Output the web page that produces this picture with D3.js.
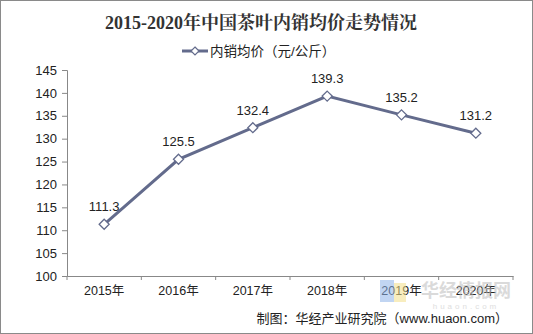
<!DOCTYPE html>
<html>
<head>
<meta charset="utf-8">
<script src="https://cdn.jsdelivr.net/npm/d3@7"></script>
<style>
  html, body { margin: 0; padding: 0; background: #fff; }
  svg { display: block; }
</style>
</head>
<body>
<svg id="chart" width="533" height="334"></svg>
<script>
// 2015-2020 average domestic sales price of tea in China (yuan/kg)
const years = ["2015年", "2016年", "2017年", "2018年", "2019年", "2020年"];
const prices = [111.3, 125.5, 132.4, 139.3, 135.2, 131.2];
const yTicks = [100, 105, 110, 115, 120, 125, 130, 135, 140, 145];

const titleText = "2015-2020年中国茶叶内销均价走势情况";
const legendText = "内销均价（元/公斤）";
const sourceText = "制图：华经产业研究院（www.huaon.com）";

const W = 533, H = 334;
const plot = { left: 67, right: 513, top: 70, bottom: 276 };
const lineColor = "#636b8c";
const textFont = "'Liberation Sans', Arial, 'Noto Sans CJK SC', sans-serif";

// square diamond marker of half-diagonal r
const diamond = r => `M0,${-r}L${r},0L0,${r}L${-r},0Z`;

const svg = d3.select("#chart");

// outer frame
svg.append("rect")
  .attr("x", 0.5).attr("y", 0.5)
  .attr("width", W - 1).attr("height", H - 1)
  .attr("fill", "#fff").attr("stroke", "#8a8a8a");

// title
svg.append("text")
  .attr("x", 261).attr("y", 29)
  .attr("text-anchor", "middle")
  .attr("font-family", "'Liberation Serif', 'Noto Serif CJK SC', 'Noto Sans CJK SC', serif")
  .attr("font-weight", "bold")
  .attr("font-size", 18)
  .attr("fill", "#333")
  .text(titleText);

// legend
const lg = svg.append("g");
lg.append("line")
  .attr("x1", 182).attr("x2", 208).attr("y1", 51).attr("y2", 51)
  .attr("stroke", lineColor).attr("stroke-width", 3);
lg.append("path")
  .attr("d", diamond(4))
  .attr("transform", "translate(195,51)")
  .attr("fill", "#fff").attr("stroke", lineColor).attr("stroke-width", 1.2);
lg.append("text")
  .attr("x", 210).attr("y", 56)
  .attr("font-family", textFont)
  .attr("font-size", 13.5)
  .attr("fill", "#222")
  .text(legendText);

// scales
const x = d3.scaleBand().domain(years).range([plot.left, plot.right]);
const y = d3.scaleLinear().domain([100, 145]).range([plot.bottom, plot.top]);

// y axis
const yAxis = svg.append("g")
  .attr("transform", `translate(${plot.left},0)`)
  .call(d3.axisLeft(y).tickValues(yTicks).tickSize(5).tickPadding(5).tickFormat(d3.format("d")));
yAxis.select(".domain").attr("stroke", "#888");
yAxis.selectAll(".tick line").attr("stroke", "#888");
yAxis.selectAll("text")
  .attr("font-family", textFont).attr("font-size", 13).attr("fill", "#222");

// x axis
const xAxis = svg.append("g")
  .attr("transform", `translate(0,${plot.bottom})`)
  .call(d3.axisBottom(x).tickSize(0).tickPadding(10));
xAxis.select(".domain").attr("stroke", "#888");
xAxis.selectAll("text")
  .attr("font-family", textFont).attr("font-size", 12.5).attr("fill", "#222");
// boundary ticks between categories
const bounds = years.map(d => x(d)).concat([x.range()[1]]);
xAxis.selectAll(".bound").data(bounds).enter().append("line")
  .attr("class", "bound")
  .attr("x1", d => d).attr("x2", d => d)
  .attr("y1", 0).attr("y2", 4)
  .attr("stroke", "#888");

const cx = d => x(d) + x.bandwidth() / 2;
const pts = years.map((d, i) => ({ year: d, value: prices[i] }));

// line
svg.append("path")
  .datum(pts)
  .attr("fill", "none")
  .attr("stroke", lineColor)
  .attr("stroke-width", 3)
  .attr("d", d3.line().x(d => cx(d.year)).y(d => y(d.value)));

// markers
svg.selectAll(".marker").data(pts).enter().append("path")
  .attr("class", "marker")
  .attr("d", diamond(5))
  .attr("transform", d => `translate(${cx(d.year)},${y(d.value)})`)
  .attr("fill", "#fff").attr("stroke", lineColor).attr("stroke-width", 1.3);

// value labels
svg.selectAll(".vlabel").data(pts).enter().append("text")
  .attr("class", "vlabel")
  .attr("x", d => cx(d.year))
  .attr("y", d => y(d.value) - 13)
  .attr("text-anchor", "middle")
  .attr("font-family", textFont).attr("font-size", 13).attr("fill", "#222")
  .text(d => d.value.toFixed(1));

// watermark
const wm = svg.append("g").attr("opacity", 0.55);
wm.append("rect")
  .attr("x", 380).attr("y", 280).attr("width", 14).attr("height", 22)
  .attr("fill", "#8fb4e8");
wm.append("rect")
  .attr("x", 394).attr("y", 283).attr("width", 12).attr("height", 19)
  .attr("fill", "#f3e08a");
wm.append("text")
  .attr("x", 466).attr("y", 297)
  .attr("text-anchor", "middle")
  .attr("font-family", "'Noto Sans CJK SC', sans-serif")
  .attr("font-weight", "bold")
  .attr("font-size", 18)
  .attr("fill", "#bdbdbd")
  .text("华经情报网");
wm.append("text")
  .attr("x", 466).attr("y", 309)
  .attr("text-anchor", "middle")
  .attr("font-family", textFont)
  .attr("font-size", 8)
  .attr("letter-spacing", 3)
  .attr("fill", "#c4c4c4")
  .text("huaon.com");

// source note
svg.append("text")
  .attr("x", 508).attr("y", 323)
  .attr("text-anchor", "end")
  .attr("font-family", textFont)
  .attr("font-size", 13)
  .attr("fill", "#222")
  .text(sourceText);
</script>
</body>
</html>
